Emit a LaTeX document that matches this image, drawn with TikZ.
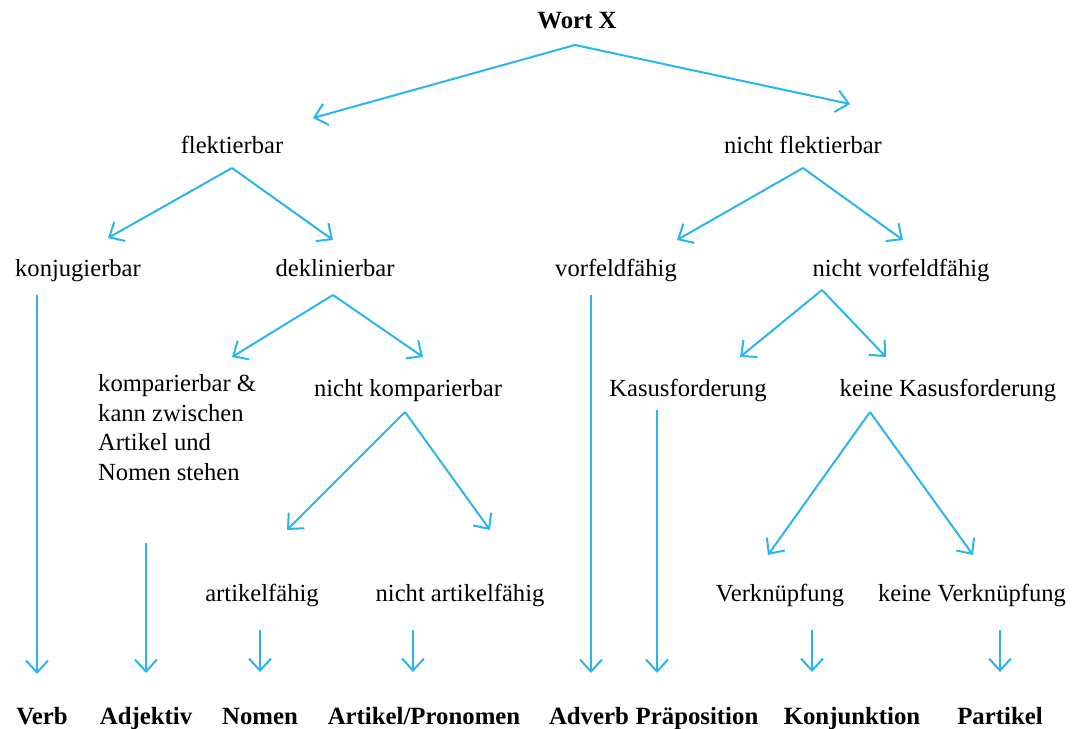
\documentclass[tikz,border=0pt]{standalone}
\usepackage{fontspec}
\setmainfont{Liberation Serif}
\usetikzlibrary{arrows.meta}
\definecolor{arrowblue}{RGB}{42,181,238}
\begin{document}
\begin{tikzpicture}[x=1pt,y=-1pt,
  lbl/.style={inner sep=0pt, anchor=base, font=\fontsize{24.6}{29.8}\selectfont},
  cat/.style={inner sep=0pt, anchor=base, font=\fontsize{24.8}{29.8}\selectfont\bfseries},
  arr/.style={draw=arrowblue, line width=2pt, -{Straight Barb[length=12pt,width=22pt,line width=2pt]}}]
\useasboundingbox (0,0) rectangle (1081,728);
% labels
\node[cat] (wort) at (577,28) {Wort X};
\node[lbl] (flek) at (232,153) {flektierbar};
\node[lbl] (nflek) at (803,153) {nicht flektierbar};
\node[lbl] (konj) at (78,276) {konjugierbar};
\node[lbl] (dekl) at (335,276) {deklinierbar};
\node[lbl] (vorf) at (616,276) {vorfeldfähig};
\node[lbl] (nvorf) at (901,276) {nicht vorfeldfähig};
\node[lbl, anchor=north west, align=left] (komp) at (98,374) {komparierbar \&\\kann zwischen\\Artikel und\\Nomen stehen};
\node[lbl] (nkomp) at (408,396) {nicht komparierbar};
\node[lbl] (kasus) at (688,396) {Kasusforderung};
\node[lbl] (nkasus) at (948,396) {keine Kasusforderung};
\node[lbl] (artf) at (262,601) {artikelfähig};
\node[lbl] (nartf) at (460,601) {nicht artikelfähig};
\node[lbl] (verk) at (780,601) {Verknüpfung};
\node[lbl] (nverk) at (972,601) {keine Verknüpfung};
% categories
\node[cat] (verb) at (42,724) {Verb};
\node[cat] (adj) at (146,724) {Adjektiv};
\node[cat] (nomen) at (260,724) {Nomen};
\node[cat] (artpro) at (424,724) {Artikel/Pronomen};
\node[cat] (adverb) at (589,724) {Adverb};
\node[cat] (prae) at (697,724) {Präposition};
\node[cat] (konjk) at (852,724) {Konjunktion};
\node[cat] (part) at (1000,724) {Partikel};
% branch points and tips
\coordinate (a0) at (575,45);
\coordinate (a0l) at (313,118);
\coordinate (a0r) at (850,104);
\coordinate (a1) at (232,168);
\coordinate (a1l) at (108,238);
\coordinate (a1r) at (333,240);
\coordinate (a2) at (803,168);
\coordinate (a2l) at (677,240);
\coordinate (a2r) at (903,240);
\coordinate (a3) at (333,295);
\coordinate (a3l) at (232,357);
\coordinate (a3r) at (423,357);
\coordinate (a4) at (822,290);
\coordinate (a4l) at (740,357);
\coordinate (a4r) at (886,357);
\coordinate (a5) at (405,412);
\coordinate (a5l) at (287,530);
\coordinate (a5r) at (490,530);
\coordinate (a6) at (870,412);
\coordinate (a6l) at (768,555);
\coordinate (a6r) at (973,555);
% vertical starts / ends
\coordinate (v1s) at (37,295);   \coordinate (v1e) at (37,674);
\coordinate (v2s) at (146,543);  \coordinate (v2e) at (146,673);
\coordinate (v3s) at (260,630);  \coordinate (v3e) at (260,672);
\coordinate (v4s) at (413,630);  \coordinate (v4e) at (413,672);
\coordinate (v5s) at (591,295);  \coordinate (v5e) at (591,673);
\coordinate (v6s) at (657,410);  \coordinate (v6e) at (657,673);
\coordinate (v7s) at (812,630);  \coordinate (v7e) at (812,672);
\coordinate (v8s) at (1000,630); \coordinate (v8e) at (1000,672);
% branching arrows
\foreach \p in {a0,a1,a2,a3,a4,a5,a6}{
  \draw[arr] (\p) -- (\p l);
  \draw[arr] (\p) -- (\p r);
}
% vertical arrows
\foreach \i in {1,...,8}{
  \draw[arr] (v\i s) -- (v\i e);
}
\end{tikzpicture}
\end{document}
